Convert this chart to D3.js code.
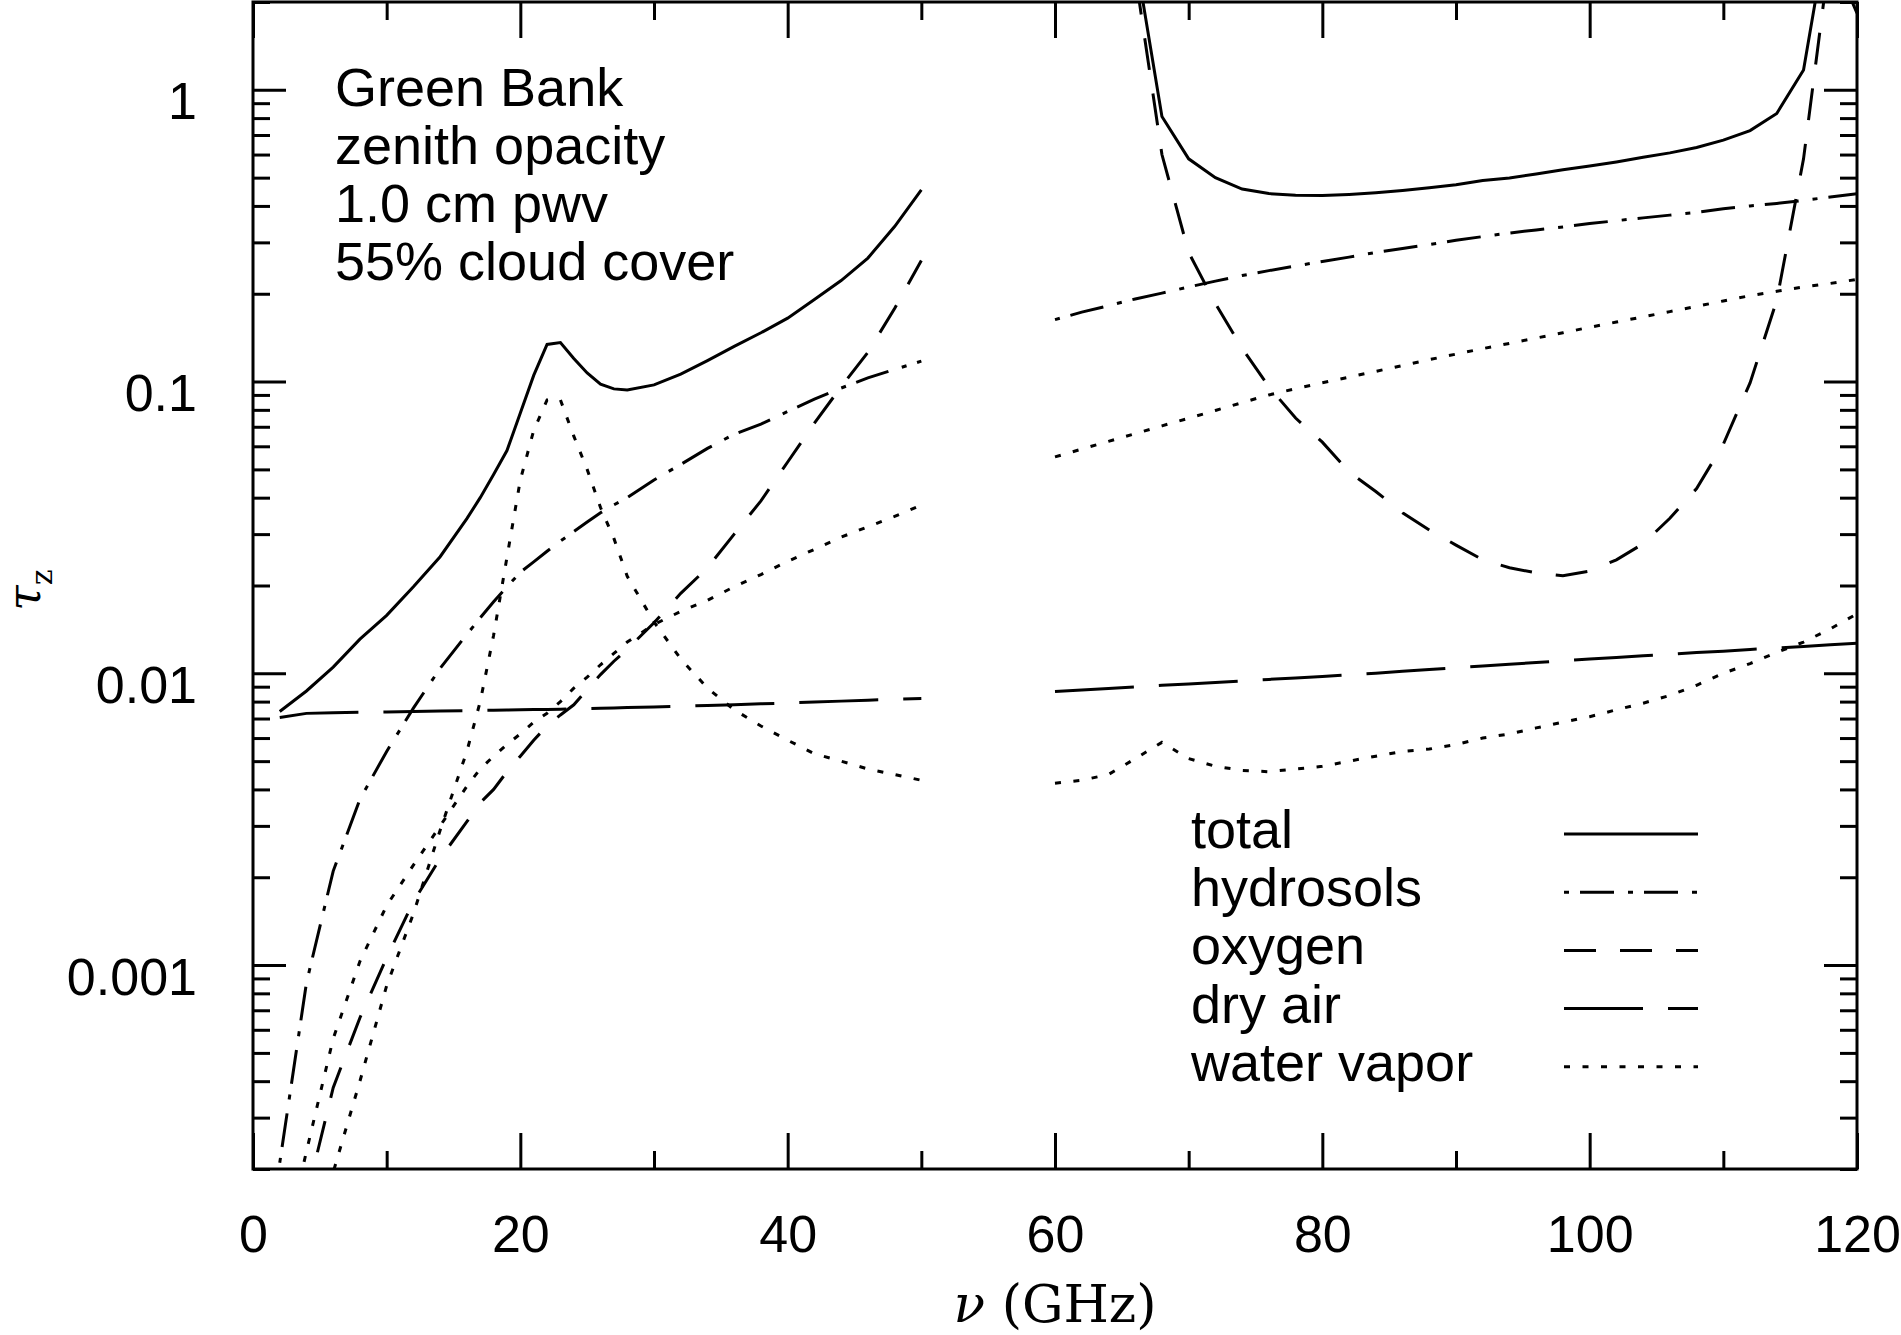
<!DOCTYPE html>
<html>
<head>
<meta charset="utf-8">
<script src="https://cdn.jsdelivr.net/npm/d3@7"></script>
<style>
  body { margin: 0; background: #fff; }
</style>
</head>
<body>
<div id="chart"></div>
<script>
// frequencies (GHz) of the two computed bands, 50-60 GHz is left out
var freqLow = [2, 4, 6, 8, 10, 12, 14, 16, 17, 18, 19, 20, 21, 22, 23, 24, 25, 26, 27, 28,
               30, 32, 34, 36, 38, 40, 42, 44, 46, 48, 50];
var freqHigh = [60, 62, 64, 66, 68, 70, 72, 74, 76, 78, 80, 82, 84, 86, 88, 90, 92, 94, 96, 98,
                100, 102, 104, 106, 108, 110, 112, 114, 116, 118, 120];

// zenith opacity
var totalLow = [0.0074, 0.0087, 0.0105, 0.0131, 0.0158, 0.0198, 0.0251, 0.0339, 0.040, 0.048, 0.058,
                0.078, 0.105, 0.134, 0.136, 0.120, 0.107, 0.098, 0.0944, 0.0936, 0.0974, 0.106,
                0.118, 0.132, 0.147, 0.165, 0.191, 0.222, 0.265, 0.34, 0.454];
var totalHigh = [50, 30, 10, 2.9, 0.81, 0.58, 0.50, 0.457, 0.441, 0.435, 0.434, 0.438, 0.444, 0.452,
                 0.462, 0.473, 0.489, 0.499, 0.515, 0.532, 0.548, 0.566, 0.587, 0.608, 0.634, 0.672,
                 0.725, 0.83, 1.17, 4.0, 2.4];

var hydrosolsLow = [2.1e-4, 8.7e-4, 0.0021, 0.0037, 0.0054, 0.0076, 0.0104, 0.0136, 0.0155, 0.0176,
                    0.0198, 0.0222, 0.0241, 0.0262, 0.0284, 0.0306, 0.033, 0.0355, 0.0378, 0.040,
                    0.046, 0.052, 0.059, 0.066, 0.0715, 0.079, 0.087, 0.095, 0.103, 0.110, 0.1175];
var hydrosolsHigh = [0.163, 0.173, 0.182, 0.192, 0.201, 0.211, 0.221, 0.231, 0.240, 0.249, 0.258,
                     0.267, 0.277, 0.286, 0.295, 0.305, 0.314, 0.323, 0.331, 0.339, 0.348, 0.356,
                     0.364, 0.372, 0.380, 0.391, 0.400, 0.408, 0.418, 0.429, 0.44];

var oxygenLow = [4e-5, 1.6e-4, 3.8e-4, 6.6e-4, 0.00106, 0.00165, 0.00232, 0.0031, 0.0036, 0.0040,
                 0.0046, 0.0052, 0.0059, 0.0066, 0.0072, 0.0078, 0.0088, 0.0099, 0.0110, 0.0121,
                 0.0149, 0.0188, 0.023, 0.030, 0.039, 0.053, 0.072, 0.096, 0.126, 0.178, 0.26];
var oxygenHigh = [30, 20, 8, 2.5, 0.6, 0.277, 0.185, 0.13, 0.096, 0.075, 0.062, 0.049, 0.042, 0.0355,
                  0.031, 0.0275, 0.0245, 0.0230, 0.0221, 0.0216, 0.0224, 0.0245, 0.0278, 0.034,
                  0.043, 0.061, 0.099, 0.19, 0.58, 3.0, 1.83];

var dryAirLow = [0.00706, 0.00729, 0.00733, 0.00735, 0.00737, 0.0074, 0.00743, 0.00745, 0.00746,
                 0.00747, 0.00748, 0.0075, 0.00751, 0.00752, 0.00753, 0.00755, 0.00757, 0.00759,
                 0.00761, 0.00763, 0.00767, 0.00771, 0.00776, 0.00781, 0.00786, 0.00791, 0.00797,
                 0.00803, 0.00809, 0.00815, 0.0082];
var dryAirHigh = [0.00867, 0.00877, 0.00887, 0.00898, 0.0091, 0.0092, 0.00931, 0.00942, 0.00953,
                  0.00964, 0.00975, 0.00988, 0.0100, 0.01016, 0.0103, 0.01045, 0.0106, 0.01074,
                  0.01089, 0.01104, 0.0112, 0.01132, 0.01148, 0.01161, 0.01178, 0.01191, 0.01208,
                  0.01222, 0.01236, 0.01253, 0.01268];

// two dotted water vapor curves
var waterLineLow = [2e-5, 6e-5, 1.95e-4, 4.0e-4, 8.5e-4, 0.0015, 0.0029, 0.0054, 0.0080, 0.0135,
                    0.025, 0.046, 0.068, 0.0865, 0.0865, 0.065, 0.050, 0.037, 0.029, 0.0215,
                    0.0150, 0.0112, 0.0089, 0.0075, 0.0066, 0.0059, 0.0053, 0.0050, 0.0047,
                    0.0045, 0.0043];
var waterLineHigh = [0.0042, 0.0043, 0.0045, 0.0051, 0.0058, 0.0051, 0.0048, 0.00465, 0.0046, 0.0047,
                     0.0048, 0.0050, 0.0052, 0.0054, 0.0055, 0.0057, 0.0060, 0.0062, 0.0065, 0.0068,
                     0.0071, 0.0075, 0.0079, 0.0084, 0.0091, 0.0100, 0.0108, 0.0118, 0.0128,
                     0.0142, 0.0160];
var waterContLow = [9e-5, 2.3e-4, 5.6e-4, 0.00103, 0.0016, 0.0022, 0.0030, 0.0041, 0.0047, 0.0052,
                    0.0057, 0.0062, 0.0068, 0.0073, 0.0080, 0.0089, 0.0097, 0.0107, 0.0117, 0.0128,
                    0.0147, 0.0163, 0.0178, 0.0198, 0.0218, 0.0242, 0.0266, 0.0293, 0.0318,
                    0.0345, 0.0377];
var waterContHigh = [0.0552, 0.0587, 0.0624, 0.0663, 0.0705, 0.0749, 0.0796, 0.0847, 0.0900, 0.0945,
                     0.0991, 0.1036, 0.1084, 0.1135, 0.1189, 0.1242, 0.1297, 0.1352, 0.141, 0.147,
                     0.1535, 0.160, 0.1667, 0.1737, 0.181, 0.189, 0.197, 0.204, 0.211, 0.217, 0.224];

var legendLabels = ["total", "hydrosols", "oxygen", "dry air", "water vapor"];
var noteLines = ["Green Bank", "zenith opacity", "1.0 cm pwv", "55% cloud cover"];
var xTicks = [0, 20, 40, 60, 80, 100, 120];
var xMinorTicks = [10, 30, 50, 70, 90, 110];
var yTicks = [0.001, 0.01, 0.1, 1];

// line styles
var dashes = {
  "total": null,
  "hydrosols": "5,11,34,14",
  "oxygen": "32,24",
  "dry air": "79,25",
  "water vapor": "6,12.5"
};

var series = [
  {style: "total", low: totalLow, high: totalHigh},
  {style: "hydrosols", low: hydrosolsLow, high: hydrosolsHigh},
  {style: "oxygen", low: oxygenLow, high: oxygenHigh},
  {style: "dry air", low: dryAirLow, high: dryAirHigh},
  {style: "water vapor", low: waterLineLow, high: waterLineHigh},
  {style: "water vapor", low: waterContLow, high: waterContHigh}
];

var width = 1901, height = 1335;
var margin = {top: 2, right: 44, bottom: 166, left: 253};
var sans = "'Liberation Sans', Arial, Helvetica, sans-serif";
var serif = "'DejaVu Serif', 'Liberation Serif', serif";
var lw = 3;

var x = d3.scaleLinear().domain([0, 120]).range([margin.left, width - margin.right]);
var y = d3.scaleLog().domain([2e-4, 2]).range([height - margin.bottom, margin.top]);

// minor log ticks 2..9 in each decade
var yMinorTicks = [];
[1e-4, 1e-3, 1e-2, 1e-1, 1].forEach(function(d) {
  for (var m = 2; m <= 9; m++) {
    var v = m * d;
    if (v >= 2e-4 && v <= 2.0001) yMinorTicks.push(v);
  }
});

var svg = d3.select("#chart")
  .append("svg")
  .attr("width", width)
  .attr("height", height)
  .style("background", "#fff");

var plotBottom = y.range()[0], plotTop = y.range()[1];
var plotLeft = x.range()[0], plotRight = x.range()[1];

svg.append("clipPath").attr("id", "plotClip")
  .append("rect")
  .attr("x", plotLeft).attr("y", plotTop)
  .attr("width", plotRight - plotLeft).attr("height", plotBottom - plotTop);

function styleAxis(g) {
  g.select(".domain").remove();
  g.selectAll("line").attr("stroke", "#000").attr("stroke-width", lw);
  g.selectAll("text").attr("font-family", sans).attr("font-size", 52).attr("fill", "#000");
}

// x axis bottom + top
svg.append("g").attr("transform", "translate(0," + plotBottom + ")")
  .call(d3.axisBottom(x).tickValues(xTicks).tickSizeInner(-36).tickSizeOuter(0)
    .tickPadding(46).tickFormat(d3.format("d")))
  .call(styleAxis);
svg.append("g").attr("transform", "translate(0," + plotBottom + ")")
  .call(d3.axisBottom(x).tickValues(xMinorTicks).tickSizeInner(-18).tickSizeOuter(0).tickFormat(""))
  .call(styleAxis);
svg.append("g").attr("transform", "translate(0," + plotTop + ")")
  .call(d3.axisTop(x).tickValues(xTicks).tickSizeInner(-36).tickSizeOuter(0).tickFormat(""))
  .call(styleAxis);
svg.append("g").attr("transform", "translate(0," + plotTop + ")")
  .call(d3.axisTop(x).tickValues(xMinorTicks).tickSizeInner(-18).tickSizeOuter(0).tickFormat(""))
  .call(styleAxis);

// y axis left + right
svg.append("g").attr("transform", "translate(" + plotLeft + ",0)")
  .call(d3.axisLeft(y).tickValues(yTicks).tickSizeInner(-33).tickSizeOuter(0)
    .tickPadding(56).tickFormat(function(d) { return String(d); }))
  .call(styleAxis)
  .selectAll("text").attr("dy", "0.56em");
svg.append("g").attr("transform", "translate(" + plotLeft + ",0)")
  .call(d3.axisLeft(y).tickValues(yMinorTicks).tickSizeInner(-17).tickSizeOuter(0).tickFormat(""))
  .call(styleAxis);
svg.append("g").attr("transform", "translate(" + plotRight + ",0)")
  .call(d3.axisRight(y).tickValues(yTicks).tickSizeInner(-33).tickSizeOuter(0).tickFormat(""))
  .call(styleAxis);
svg.append("g").attr("transform", "translate(" + plotRight + ",0)")
  .call(d3.axisRight(y).tickValues(yMinorTicks).tickSizeInner(-17).tickSizeOuter(0).tickFormat(""))
  .call(styleAxis);

// curves
var line = d3.line()
  .x(function(d) { return x(d[0]); })
  .y(function(d) { return y(d[1]); });

var plot = svg.append("g").attr("clip-path", "url(#plotClip)");
series.forEach(function(s) {
  [[freqLow, s.low], [freqHigh, s.high]].forEach(function(part) {
    var pts = part[0].map(function(f, i) { return [f, part[1][i]]; });
    plot.append("path")
      .datum(pts)
      .attr("fill", "none")
      .attr("stroke", "#000")
      .attr("stroke-width", lw)
      .attr("stroke-dasharray", dashes[s.style])
      .attr("d", line);
  });
});

// frame
svg.append("rect")
  .attr("x", plotLeft).attr("y", plotTop)
  .attr("width", plotRight - plotLeft).attr("height", plotBottom - plotTop)
  .attr("fill", "none").attr("stroke", "#000").attr("stroke-width", lw);

// annotation
svg.append("g").selectAll("text")
  .data(noteLines)
  .enter().append("text")
  .attr("x", 335)
  .attr("y", function(d, i) { return 106 + i * 58; })
  .attr("font-family", sans).attr("font-size", 54)
  .text(function(d) { return d; });

// legend
var legend = svg.append("g");
legendLabels.forEach(function(name, i) {
  legend.append("text")
    .attr("x", 1191).attr("y", 848 + i * 58.2)
    .attr("font-family", sans).attr("font-size", 54)
    .text(name);
  legend.append("line")
    .attr("x1", 1564).attr("x2", 1698)
    .attr("y1", 834 + i * 58.2).attr("y2", 834 + i * 58.2)
    .attr("stroke", "#000").attr("stroke-width", lw)
    .attr("stroke-dasharray", dashes[name]);
});

// axis labels
var xl = svg.append("text")
  .attr("x", x(60)).attr("y", 1322)
  .attr("text-anchor", "middle")
  .attr("font-family", serif).attr("font-size", 52);
xl.append("tspan").attr("font-style", "italic").text("ν");
xl.append("tspan").text("\u00a0(GHz)");

var yl = svg.append("text")
  .attr("transform", "translate(40,590) rotate(-90)")
  .attr("text-anchor", "middle")
  .attr("font-family", serif).attr("font-size", 46);
yl.append("tspan").attr("font-style", "italic").text("τ");
yl.append("tspan").attr("font-size", 30).attr("dy", 12).text("z");
</script>
</body>
</html>
